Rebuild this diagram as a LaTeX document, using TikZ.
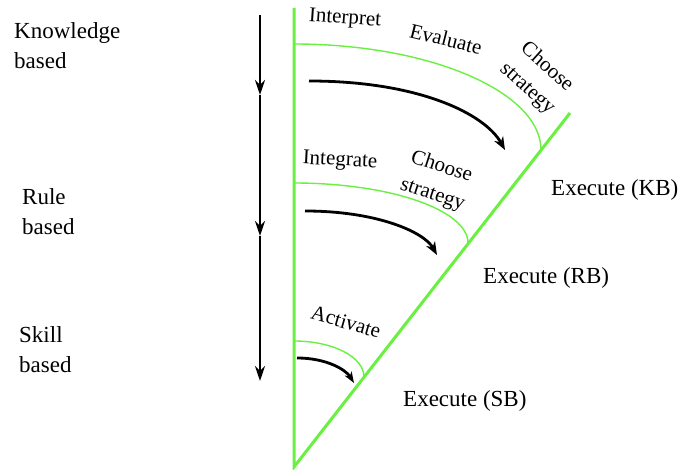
\documentclass[tikz,border=0pt]{standalone}
\usepackage{fontspec}
\setmainfont{Liberation Serif}
\usetikzlibrary{arrows.meta}
\definecolor{leaf}{RGB}{105,240,65}
\tikzset{
  frame/.style={draw=leaf, line width=3pt},
  band/.style={draw=leaf, line width=1.4pt},
  flow/.style={draw=black, line width=2.8pt, -{Stealth[length=13pt,width=10pt,inset=4pt]}},
  levelarrow/.style={draw=black, line width=2.4pt, -{Stealth[length=15pt,width=10pt,inset=5pt]}},
  level/.style={font=\fontsize{23}{30}\selectfont, align=left, anchor=north west, inner sep=0pt},
  exec/.style={font=\fontsize{23}{30}\selectfont, anchor=base west, inner sep=0pt},
  stage/.style={font=\fontsize{21}{29}\selectfont, align=center, inner sep=0pt}
}
\begin{document}
\begin{tikzpicture}[x=1pt,y=-1pt]
\useasboundingbox (0,0) rectangle (681,470);

% the funnel: vertical edge and diagonal edge
\coordinate (top) at (294,8);
\coordinate (apex) at (294,467);
\coordinate (tip) at (570,113);
\draw[frame, line join=miter] (top) -- (apex) -- (tip);

% level boundaries
\coordinate (kbS) at (294,44);  \coordinate (kbE) at (541,150);
\coordinate (rbS) at (294,183); \coordinate (rbE) at (468,243);
\coordinate (sbS) at (294,341); \coordinate (sbE) at (364,377);
\draw[band] (kbS) .. controls +(136,0) and +(0,-58) .. (kbE);
\draw[band] (rbS) .. controls +(96,0) and +(0,-33) .. (rbE);
\draw[band] (sbS) .. controls +(39,0) and +(0,-20) .. (sbE);

% processing flow within each level
\coordinate (kfS) at (309,81);  \coordinate (kfE) at (505,150);
\coordinate (rfS) at (305,211); \coordinate (rfE) at (437,255);
\coordinate (sfS) at (297,358); \coordinate (sfE) at (354,383);
\draw[flow] (kfS) .. controls +(110,0) and +(-20,-36) .. (kfE);
\draw[flow] (rfS) .. controls +(72,0) and +(-13,-23) .. (rfE);
\draw[flow, -{Stealth[length=11pt,width=8pt,inset=3pt]}] (sfS) .. controls +(30,0) and +(-8,-13) .. (sfE);

% descending level arrow
\coordinate (la0) at (260,15);
\coordinate (la1) at (260,95);
\coordinate (la2) at (260,236);
\coordinate (la3) at (260,381);
\draw[levelarrow] (la0) -- (la1);
\draw[levelarrow] (la1) -- (la2);
\draw[levelarrow] (la2) -- (la3);

% level names
\node[level] (kb) at (14,22) {Knowledge\\based};
\node[level] (rb) at (22,188) {Rule\\based};
\node[level] (sb) at (19,326) {Skill\\based};

% stages
\node[stage, rotate=-4]  (interp) at (345,19)  {Interpret};
\node[stage, rotate=-14] (eval)   at (446,39)  {Evaluate};
\node[stage, rotate=-42] (chooseK) at (537,78) {Choose\\strategy};
\node[stage, rotate=-3]  (integ)  at (340,161) {Integrate};
\node[stage, rotate=-18] (chooseR) at (437,181) {Choose\\strategy};
\node[stage, rotate=-16] (activ)  at (346,322) {Activate};

% execution labels
\node[exec] (exK) at (551,196) {Execute (KB)};
\node[exec] (exR) at (483,284) {Execute (RB)};
\node[exec] (exS) at (403,407) {Execute (SB)};
\end{tikzpicture}
\end{document}
